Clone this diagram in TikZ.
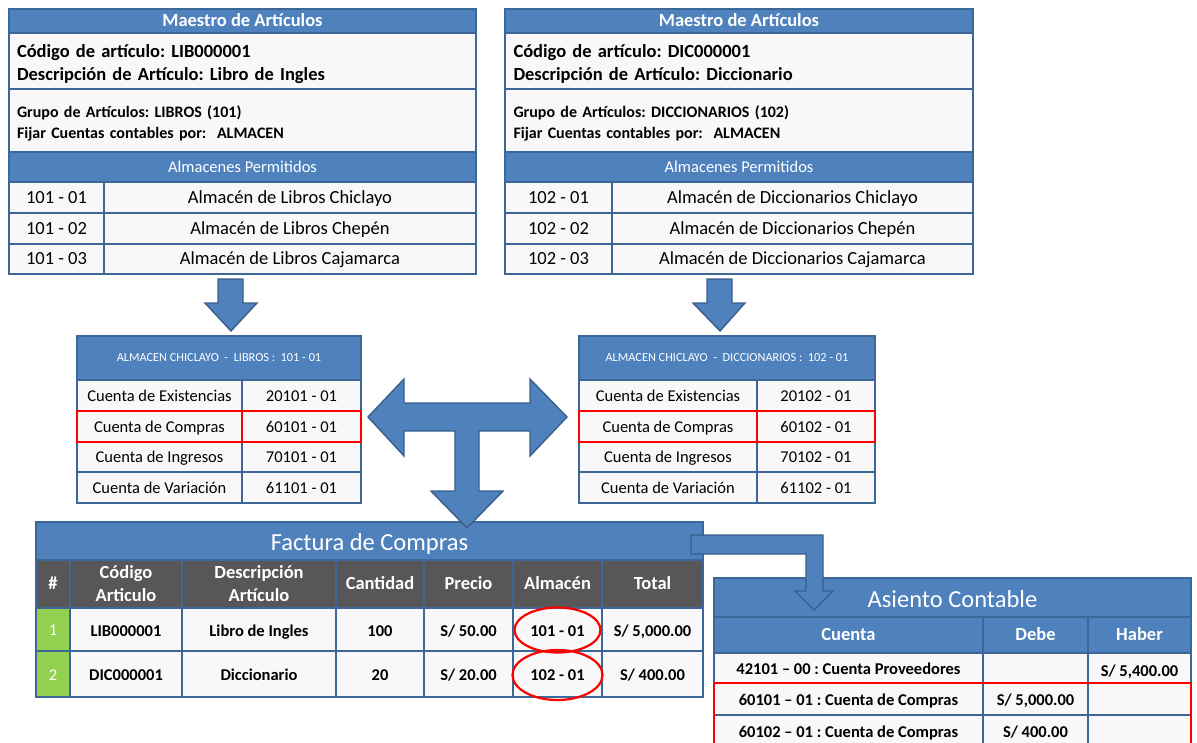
\documentclass[tikz,border=0pt]{standalone}
\usepackage{fontspec}
\setmainfont{Carlito}
\frenchspacing
\definecolor{tblue}{HTML}{4F81BD}
\definecolor{tline}{HTML}{3C6799}
\definecolor{adark}{HTML}{3A5F8B}
\definecolor{cellbg}{HTML}{F8F8F8}
\definecolor{hdrgray}{HTML}{575757}
\definecolor{numgreen}{HTML}{92D050}
\definecolor{mark}{HTML}{FF0000}

% one table cell: name, x1, y1, x2, y2, style, text
\newcommand\cell[7]{%
  \pgfmathsetmacro\cellW{#4-#2}%
  \pgfmathsetmacro\cellH{#5-#3}%
  \node[cellbase,#6,minimum width=\cellW pt,minimum height=\cellH pt]
    (#1) at ({(#2+#4)/2},{(#3+#5)/2}) {#7};}

\tikzset{
  cellbase/.style={rectangle, inner sep=0pt, outer sep=0pt, draw=tline, line width=1.6pt},
  bluehdr/.style={fill=tblue, text=white},
  whitecell/.style={fill=cellbg, text=black},
  graycell/.style={fill=hdrgray, text=white},
  greencell/.style={fill=numgreen, text=white},
  % the text box is given a fixed height above the baseline and no
  % depth, which places the lettering at a set height inside its cell
  capbox/.style={text height=#1, text depth=0pt},
  fHead/.style={font=\fontsize{18.5}{23}\selectfont\bfseries, capbox=11.8pt},
  % two-line left-aligned blocks (measured from the first baseline)
  fInfo/.style={font=\fontsize{18.5}{23}\selectfont\bfseries, text width=451pt, align=left, text height=15.8pt, text depth=23pt},
  fGrp/.style={font=\fontsize{16}{21}\selectfont\bfseries, text width=451pt, align=left, text height=14.3pt, text depth=21pt},
  fSub/.style={font=\fontsize{16.5}{20}\selectfont, capbox=10.6pt},
  fRow/.style={font=\fontsize{18.5}{22}\selectfont, capbox=11.8pt},
  fMid/.style={font=\fontsize{16.5}{20}\selectfont, capbox=11.6pt},
  fSmall/.style={font=\fontsize{12.3}{14}\selectfont, capbox=7.9pt},
  fBig/.style={font=\fontsize{24.5}{28}\selectfont, capbox=19.7pt},
  fColHdr/.style={font=\fontsize{18.5}{23}\selectfont\bfseries, align=center, capbox=11.8pt},
  % two-line centred headers (measured from the last baseline)
  fColHdrTwo/.style={font=\fontsize{18.5}{23.5}\selectfont\bfseries, align=center, capbox=35.3pt},
  fData/.style={font=\fontsize{16.5}{20}\selectfont\bfseries, capbox=13.6pt},
  fNum/.style={font=\fontsize{16.5}{20}\selectfont, capbox=12.6pt},
  outerframe/.style={draw=tline, line width=2.2pt},
  redbox/.style={draw=mark, line width=2.6pt},
  redring/.style={draw=mark, line width=2.2pt},
  blockarrow/.style={fill=tblue, draw=adark, line width=1.4pt, line join=miter},
}

\begin{document}
\begin{tikzpicture}[x=1pt, y=-1pt]
\clip (0,0) rectangle (1197,742);
\fill[white] (0,0) rectangle (1197,742);

% ---------- Maestro de Artículos: libros ----------
\cell{mlHead}{9}{9}{476}{33}{bluehdr,fHead}{Maestro de Artículos}
\cell{mlCode}{9}{33}{476}{89}{whitecell,fInfo}{Código de artículo: LIB000001\\Descripción de Artículo: Libro de Ingles}
\cell{mlGrp}{9}{89}{476}{152}{whitecell,fGrp}{Grupo de Artículos: LIBROS (101)\\Fijar Cuentas contables por:\ \ ALMACEN}
\cell{mlAlm}{9}{152}{476}{182}{bluehdr,fSub}{Almacenes Permitidos}
\cell{mlC1}{9}{182}{104}{213}{whitecell,fRow}{101 - 01}
\cell{mlN1}{104}{182}{476}{213}{whitecell,fRow}{Almacén de Libros Chiclayo}
\cell{mlC2}{9}{213}{104}{244}{whitecell,fRow}{101 - 02}
\cell{mlN2}{104}{213}{476}{244}{whitecell,fRow}{Almacén de Libros Chepén}
\cell{mlC3}{9}{244}{104}{274}{whitecell,fRow}{101 - 03}
\cell{mlN3}{104}{244}{476}{274}{whitecell,fRow}{Almacén de Libros Cajamarca}
\draw[outerframe] (mlHead.north west) rectangle (mlN3.south east);

% ---------- Maestro de Artículos: diccionarios ----------
\cell{mrHead}{505}{9}{973}{33}{bluehdr,fHead}{Maestro de Artículos}
\cell{mrCode}{505}{33}{973}{89}{whitecell,fInfo}{Código de artículo: DIC000001\\Descripción de Artículo: Diccionario}
\cell{mrGrp}{505}{89}{973}{152}{whitecell,fGrp}{Grupo de Artículos: DICCIONARIOS (102)\\Fijar Cuentas contables por:\ \ ALMACEN}
\cell{mrAlm}{505}{152}{973}{182}{bluehdr,fSub}{Almacenes Permitidos}
\cell{mrC1}{505}{182}{612}{213}{whitecell,fRow}{102 - 01}
\cell{mrN1}{612}{182}{973}{213}{whitecell,fRow}{Almacén de Diccionarios Chiclayo}
\cell{mrC2}{505}{213}{612}{244}{whitecell,fRow}{102 - 02}
\cell{mrN2}{612}{213}{973}{244}{whitecell,fRow}{Almacén de Diccionarios Chepén}
\cell{mrC3}{505}{244}{612}{274}{whitecell,fRow}{102 - 03}
\cell{mrN3}{612}{244}{973}{274}{whitecell,fRow}{Almacén de Diccionarios Cajamarca}
\draw[outerframe] (mrHead.north west) rectangle (mrN3.south east);

% ---------- Cuentas del almacén: libros ----------
\cell{alHead}{77}{336}{361}{380}{bluehdr,fSmall}{ALMACEN CHICLAYO\ \ -\ \ LIBROS :\ \ 101 - 01}
\cell{alA1}{77}{380}{242}{411}{whitecell,fMid}{Cuenta de Existencias}
\cell{alB1}{242}{380}{361}{411}{whitecell,fMid}{20101 - 01}
\cell{alA2}{77}{411}{242}{442}{whitecell,fMid}{Cuenta de Compras}
\cell{alB2}{242}{411}{361}{442}{whitecell,fMid}{60101 - 01}
\cell{alA3}{77}{442}{242}{472}{whitecell,fMid}{Cuenta de Ingresos}
\cell{alB3}{242}{442}{361}{472}{whitecell,fMid}{70101 - 01}
\cell{alA4}{77}{472}{242}{503}{whitecell,fMid}{Cuenta de Variación}
\cell{alB4}{242}{472}{361}{503}{whitecell,fMid}{61101 - 01}
\draw[redbox] (alA2.north west) rectangle (alA2.south east);
\draw[redbox] (alB2.north west) rectangle (alB2.south east);

% ---------- Cuentas del almacén: diccionarios ----------
\cell{arHead}{579}{336}{875}{380}{bluehdr,fSmall}{ALMACEN CHICLAYO\ \ -\ \ DICCIONARIOS :\ \ 102 - 01}
\cell{arA1}{579}{380}{757}{411}{whitecell,fMid}{Cuenta de Existencias}
\cell{arB1}{757}{380}{875}{411}{whitecell,fMid}{20102 - 01}
\cell{arA2}{579}{411}{757}{442}{whitecell,fMid}{Cuenta de Compras}
\cell{arB2}{757}{411}{875}{442}{whitecell,fMid}{60102 - 01}
\cell{arA3}{579}{442}{757}{472}{whitecell,fMid}{Cuenta de Ingresos}
\cell{arB3}{757}{442}{875}{472}{whitecell,fMid}{70102 - 01}
\cell{arA4}{579}{472}{757}{503}{whitecell,fMid}{Cuenta de Variación}
\cell{arB4}{757}{472}{875}{503}{whitecell,fMid}{61102 - 01}
\draw[redbox] (arA2.north west) rectangle (arA2.south east);
\draw[redbox] (arB2.north west) rectangle (arB2.south east);

% ---------- Factura de Compras ----------
\cell{fcHead}{36}{522}{703}{560}{bluehdr,fBig}{Factura de Compras}
\cell{fcH1}{36}{560}{70}{608}{graycell,fColHdr}{\#}
\cell{fcH2}{70}{560}{182}{608}{graycell,fColHdrTwo}{Código\\Articulo}
\cell{fcH3}{182}{560}{336}{608}{graycell,fColHdrTwo}{Descripción\\Artículo}
\cell{fcH4}{336}{560}{424}{608}{graycell,fColHdr}{Cantidad}
\cell{fcH5}{424}{560}{513}{608}{graycell,fColHdr}{Precio}
\cell{fcH6}{513}{560}{602}{608}{graycell,fColHdr}{Almacén}
\cell{fcH7}{602}{560}{703}{608}{graycell,fColHdr}{Total}
\cell{fcR1a}{36}{608}{70}{651}{greencell,fNum}{1}
\cell{fcR1b}{70}{608}{182}{651}{whitecell,fData}{LIB000001}
\cell{fcR1c}{182}{608}{336}{651}{whitecell,fData}{Libro de Ingles}
\cell{fcR1d}{336}{608}{424}{651}{whitecell,fData}{100}
\cell{fcR1e}{424}{608}{513}{651}{whitecell,fData}{S/ 50.00}
\cell{fcR1f}{513}{608}{602}{651}{whitecell,fData}{101 - 01}
\cell{fcR1g}{602}{608}{703}{651}{whitecell,fData}{S/ 5,000.00}
\cell{fcR2a}{36}{651}{70}{697}{greencell,fNum}{2}
\cell{fcR2b}{70}{651}{182}{697}{whitecell,fData}{DIC000001}
\cell{fcR2c}{182}{651}{336}{697}{whitecell,fData}{Diccionario}
\cell{fcR2d}{336}{651}{424}{697}{whitecell,fData}{20}
\cell{fcR2e}{424}{651}{513}{697}{whitecell,fData}{S/ 20.00}
\cell{fcR2f}{513}{651}{602}{697}{whitecell,fData}{102 - 01}
\cell{fcR2g}{602}{651}{703}{697}{whitecell,fData}{S/ 400.00}
\draw[redring] ([yshift=-0.5pt]fcR1f.center) ellipse [x radius=43, y radius=22.5];
\draw[redring] ([yshift=-1pt]fcR2f.center) ellipse [x radius=45, y radius=25];

% ---------- Asiento Contable ----------
\cell{asHead}{714}{578}{1191}{617}{bluehdr,fBig}{Asiento Contable}
\cell{asH1}{714}{617}{983}{653}{bluehdr,fColHdr}{Cuenta}
\cell{asH2}{983}{617}{1088}{653}{bluehdr,fColHdr}{Debe}
\cell{asH3}{1088}{617}{1191}{653}{bluehdr,fColHdr}{Haber}
\cell{asR1a}{714}{653}{983}{683}{whitecell,fData}{42101 – 00 : Cuenta Proveedores}
\cell{asR1b}{983}{653}{1088}{683}{whitecell,fData}{}
\cell{asR1c}{1088}{653}{1191}{683}{whitecell,fData,capbox=16pt}{S/ 5,400.00}
\cell{asR2a}{714}{683}{983}{715}{whitecell,fData}{60101 – 01 : Cuenta de Compras}
\cell{asR2b}{983}{683}{1088}{715}{whitecell,fData}{S/ 5,000.00}
\cell{asR2c}{1088}{683}{1191}{715}{whitecell,fData}{}
\cell{asR3a}{714}{715}{983}{747}{whitecell,fData}{60102 – 01 : Cuenta de Compras}
\cell{asR3b}{983}{715}{1088}{747}{whitecell,fData}{S/ 400.00}
\cell{asR3c}{1088}{715}{1191}{747}{whitecell,fData}{}
\draw[redbox] (asR2a.north west) rectangle ([yshift=-20pt]asR3c.south east);

% ---------- block arrows ----------
% down arrows from each Maestro to its warehouse accounts
\draw[blockarrow] (218,279) -- (243,279) -- (243,303) -- (257,303) -- (231,331)
  -- (205,303) -- (218,303) -- cycle;
\draw[blockarrow] (707,279) -- (732,279) -- (732,303) -- (745,303) -- (720,331)
  -- (693,303) -- (707,303) -- cycle;
% three-way arrow between both account tables and the invoice
\draw[blockarrow] (368,417) -- (404,379) -- (404,403) -- (530,403) -- (530,379)
  -- (567,417) -- (530,456) -- (530,431) -- (479,431) -- (479,491) -- (503,491)
  -- (467,528) -- (431,491) -- (455,491) -- (455,431) -- (404,431) -- (404,456) -- cycle;
% bent arrow from the invoice to the journal entry
\draw[blockarrow] (691,535) -- (823,535) -- (823,591) -- (833,591) -- (814,610)
  -- (795,591) -- (806,591) -- (806,554) -- (691,554) -- cycle;
\end{tikzpicture}
\end{document}
